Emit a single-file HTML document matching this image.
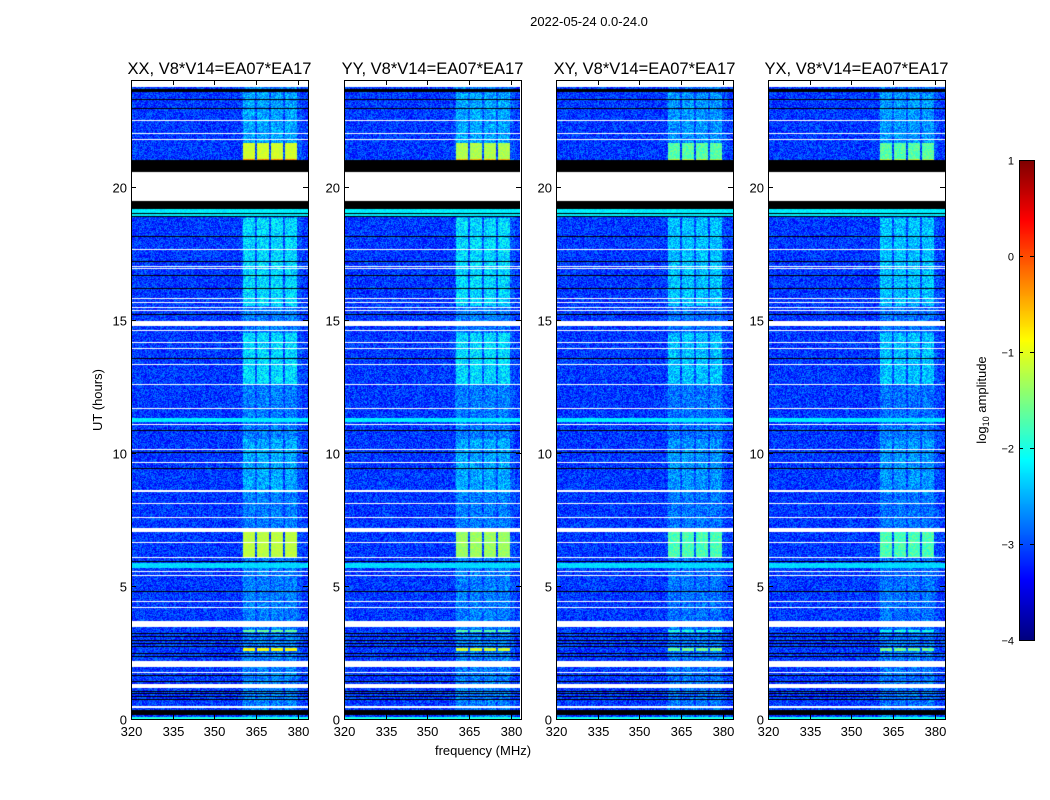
<!DOCTYPE html>
<html><head><meta charset="utf-8"><style>
body{margin:0;background:#fff;width:1050px;height:800px;overflow:hidden;position:relative;font-family:"Liberation Sans",sans-serif}
canvas{position:absolute}
svg{position:absolute;left:0;top:0}
</style></head><body>
<canvas id="c0" width="177" height="639" style="left:131px;top:80px"></canvas>
<canvas id="c1" width="176" height="639" style="left:344px;top:80px"></canvas>
<canvas id="c2" width="177" height="639" style="left:556px;top:80px"></canvas>
<canvas id="c3" width="177" height="639" style="left:768px;top:80px"></canvas>
<canvas id="cb" width="15" height="480" style="left:1019px;top:160px"></canvas>
<svg id="s" width="1050" height="800"></svg>
<script>
// ---- data ----
const panelTitles = ["XX, V8*V14=EA07*EA17","YY, V8*V14=EA07*EA17","XY, V8*V14=EA07*EA17","YX, V8*V14=EA07*EA17"];
const panelBandStrength = [1.0, 1.0, 0.85, 0.85];
const panelRowStrength = [1.0, 0.9, 0.65, 0.65];
const xTicks = [320,335,350,365,380];
const yTicks = [0,5,10,15,20];
const cbTicks = [1,0,-1,-2,-3,-4];
const broadBand = [360, 381.5];
const subBands = [[360.3,364.6],[365.3,369.6],[370.4,374.7],[375.4,379.7]];
const whiteGaps = [[23.75,24.2],[19.44,20.56],[14.75,14.93],[7.02,7.17],[3.45,3.68],[1.95,2.18],[1.16,1.31]];
const whiteLines = [22.48,21.99,21.76,17.64,17.0,16.92,15.8,15.65,15.46,15.35,14.6,14.15,13.92,13.32,12.57,11.67,11.07,10.13,9.64,8.59,8.55,8.1,7.58,6.64,6.08,5.55,5.4,4.43,4.2,1.73,0.45];
const blackBands = [[23.56,23.68],[20.56,20.98],[19.17,19.44],[0.15,0.34]];
const blackLines = [23.25,22.93,19.0,18.88,18.12,17.18,16.66,16.17,15.2,13.55,10.84,10.02,9.42,5.93,4.77,3.2,3.08,2.96,2.85,2.74,2.45,2.36,1.62,1.4,1.05,0.95,0.85,0.72];
const cyanRows = [[18.9,19.15,-2.2],[11.15,11.3,-2.2],[5.67,5.85,-2.3],[0,0.06,-2.0]];
const brightRows = [[21.05,21.65,-1.1],[21.0,21.05,-0.3],[6.08,7.02,-1.2],[6.12,6.3,-0.4],[2.55,2.65,-0.9],[3.28,3.36,-1.6]];
const bandBoostRows = [[12.6,14.5,0.45],[15.5,18.8,0.45],[8.5,10.5,0.2],[21.6,23.5,0.2]];

// ---- axes ----
const x0s=[131,344,556,768], pw=177, yTop=80, yBot=719;
const fMin=320, fMax=383.6, hMin=0, hMax=24;
function fx(f,p){return x0s[p]+(f-fMin)/(fMax-fMin)*pw;}
function hy(h){return yBot-(h-hMin)/(hMax-hMin)*(yBot-yTop);}
function jet(t){t=Math.max(0,Math.min(1,t));
 const r=Math.max(0,Math.min(1,1.5-Math.abs(4*t-3))),g=Math.max(0,Math.min(1,1.5-Math.abs(4*t-2))),b=Math.max(0,Math.min(1,1.5-Math.abs(4*t-1)));
 return [r*255|0,g*255|0,b*255|0];}
function hash(i,j,p){let n=(i*374761393+j*668265263+p*2147483647)|0;n=(n^(n>>>13))*1274126177|0;return ((n^(n>>>16))>>>0)/4294967296;}
function within(h,arr){for(const a of arr){if(h>=a[0]&&h<a[1])return a;}return null;}
function nearLine(h,arr,w){for(const l of arr){if(Math.abs(h-l)<w)return true;}return false;}

for(let p=0;p<4;p++){
 const cv=document.getElementById('c'+p),ctx=cv.getContext('2d');
 const W=cv.width,H=cv.height,img=ctx.createImageData(W,H);
 const hpp=(hMax-hMin)/(yBot-yTop);
 for(let j=0;j<H;j++){
  const h=hMax-(j+0.5)*hpp;
  for(let i=0;i<W;i++){
   const f=fMin+(i+0.5)/pw*(fMax-fMin);
   let col;
   if(within(h,whiteGaps)||nearLine(h,whiteLines,hpp*0.55)) col=[255,255,255];
   else if(within(h,blackBands)||nearLine(h,blackLines,hpp*0.5)) col=[0,0,0];
   else{
    const nz=(hash(i,j,p)-0.5)*0.8;
    let v=-3.1+nz;
    const inBroad=f>=broadBand[0]&&f<=broadBand[1];
    let inSub=false;for(const s of subBands){if(f>=s[0]&&f<=s[1])inSub=true;}
    if(inBroad)v+=0.12*panelBandStrength[p];
    if(inSub){v+=0.22*panelBandStrength[p];const b=within(h,bandBoostRows);if(b)v+=b[2]*panelBandStrength[p];}
    const c=within(h,cyanRows);
    if(c)v=c[2]+nz*0.3;
    if(inSub){const br=within(h,brightRows);if(br)v=v+(br[2]-v)*panelRowStrength[p]+nz*0.3;}
    col=jet((v+4)/5);
   }
   const k=(j*W+i)*4;img.data[k]=col[0];img.data[k+1]=col[1];img.data[k+2]=col[2];img.data[k+3]=255;
  }
 }
 ctx.putImageData(img,0,0);
}
// colorbar
{const cv=document.getElementById('cb'),ctx=cv.getContext('2d');
 for(let j=0;j<480;j++){const c=jet(1-j/479);ctx.fillStyle=`rgb(${c[0]},${c[1]},${c[2]})`;ctx.fillRect(0,j,15,1);}}

const NS='http://www.w3.org/2000/svg',svg=document.getElementById('s');
function mk(tag,attrs,text){const e=document.createElementNS(NS,tag);for(const k in attrs)e.setAttribute(k,attrs[k]);if(text!==undefined)e.textContent=text;svg.appendChild(e);return e;}
let t=mk('text',{x:589,y:26,'font-size':13,'text-anchor':'middle',fill:'#000'},'2022-05-24 0.0-24.0');


for(let p=0;p<4;p++){
 const x=x0s[p];
 let r=mk('rect',{x:x+0.5,y:yTop+0.5,width:pw,height:yBot-yTop,fill:'none',stroke:'#000','stroke-width':1});
 
 
 let tt=mk('text',{x:x+pw/2,y:74,'font-size':16.5,'text-anchor':'middle',fill:'#000'},panelTitles[p]);
 
 
 for(const f of xTicks){const X=Math.round(fx(f,p))+0.5;
  mk('line',{x1:X,x2:X,y1:yBot,y2:yBot-5,stroke:'#000'});mk('line',{x1:X,x2:X,y1:yTop,y2:yTop+5,stroke:'#000'});
  let l=mk('text',{x:X,y:736,'font-size':13,'text-anchor':'middle',fill:'#000'},String(f));
  
  }
 for(const h of yTicks){const Y=Math.round(hy(h))+0.5;
  mk('line',{x1:x,x2:x+5,y1:Y,y2:Y,stroke:'#000'});mk('line',{x1:x+pw,x2:x+pw-5,y1:Y,y2:Y,stroke:'#000'});
  let l=mk('text',{x:x-4,y:Y+5,'font-size':13,'text-anchor':'end',fill:'#000'},String(h));
  
  }
}
t=mk('text',{x:483,y:755,'font-size':13,'text-anchor':'middle',fill:'#000'},'frequency (MHz)');


t=mk('text',{x:102,y:400,'font-size':13,'text-anchor':'middle',fill:'#000',transform:'rotate(-90 102 400)'},'UT (hours)');


let cr=mk('rect',{x:1019.5,y:160.5,width:15,height:480,fill:'none',stroke:'#000'});


for(const v of cbTicks){const Y=Math.round(160+(1-v)/5*480)+0.5;
 mk('line',{x1:1019,x2:1023,y1:Y,y2:Y,stroke:'#000'});mk('line',{x1:1034,x2:1030,y1:Y,y2:Y,stroke:'#000'});
 let l=mk('text',{x:1014,y:Y+4,'font-size':11,'text-anchor':'end',fill:'#000'},v<0?'\u2212'+(-v):String(v));
 
 }
t=mk('text',{x:986,y:400,'font-size':13,'text-anchor':'middle',fill:'#000',transform:'rotate(-90 986 400)'});


t.innerHTML='log<tspan font-size="9" dy="3">10</tspan><tspan dy="-3"> amplitude</tspan>';
</script>
</body></html>
